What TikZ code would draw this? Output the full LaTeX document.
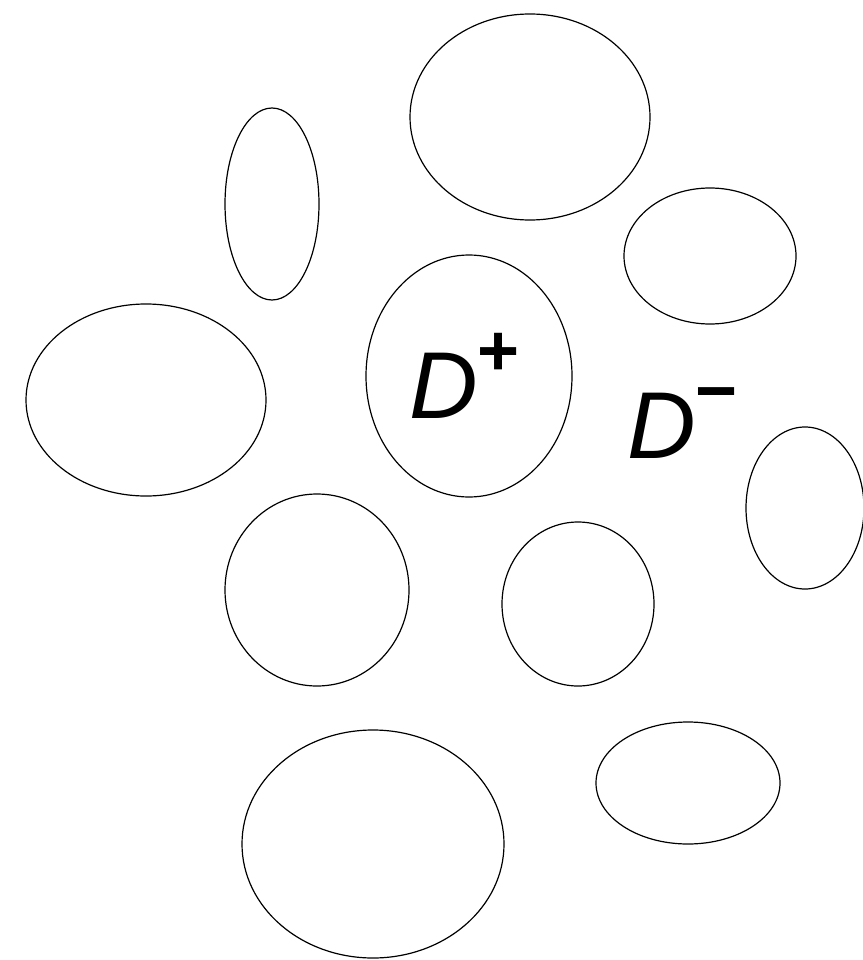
\documentclass[tikz,border=0pt]{standalone}
\usepackage{fontspec}
\setmainfont{Liberation Sans}
\begin{document}
\begin{tikzpicture}[x=1pt,y=-1pt,
  blob/.style={draw=black,line width=1.2pt},
  lbl/.style={inner sep=0pt,anchor=base west,font=\fontsize{95}{100}\selectfont\itshape}]
\useasboundingbox[fill=white] (0,0) rectangle (862,960);
\draw[blob] (530,117) ellipse [x radius=120,y radius=103];
\draw[blob] (272,204) ellipse [x radius=47,y radius=96];
\draw[blob] (710,256) ellipse [x radius=86,y radius=68];
\draw[blob] (146,400) ellipse [x radius=120,y radius=96];
\draw[blob] (469,376) ellipse [x radius=103,y radius=121];
\draw[blob] (805,508) ellipse [x radius=59,y radius=81];
\draw[blob] (317,590) ellipse [x radius=92,y radius=96];
\draw[blob] (578,604) ellipse [x radius=76,y radius=82];
\draw[blob] (373,844) ellipse [x radius=131,y radius=114];
\draw[blob] (688,783) ellipse [x radius=92,y radius=61];
\node[lbl] (dp) at (409,418) {D\raisebox{43pt}{\fontsize{72}{72}\selectfont\upshape\bfseries +}};
\node[lbl] (dm) at (627,458) {D\raisebox{43pt}{\fontsize{72}{72}\selectfont\upshape\bfseries −}};
\end{tikzpicture}
\end{document}
